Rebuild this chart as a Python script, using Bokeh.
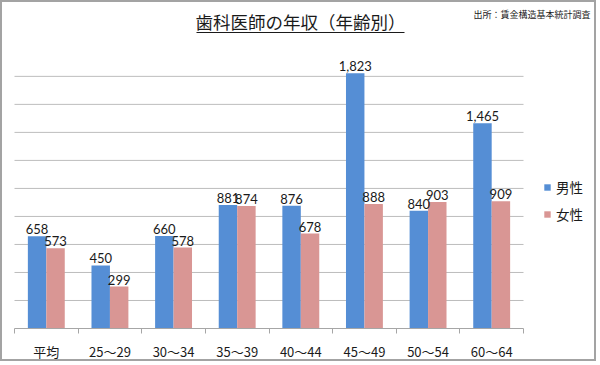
from bokeh.plotting import figure
from bokeh.models import (ColumnDataSource, FixedTicker, Label, BoxAnnotation,
                          Legend, LegendItem, Range1d)
from bokeh.transform import dodge
from bokeh.embed import file_html
from bokeh.resources import INLINE

# ---- data ----
categories = ["平均", "25～29", "30～34", "35～39", "40～44", "45～49", "50～54", "60～64"]
male = [658, 450, 660, 881, 876, 1823, 840, 1465]
female = [573, 299, 578, 874, 678, 888, 903, 909]
series_names = ["男性", "女性"]
y_max = 2000
grid_values = [200, 400, 600, 800, 1000, 1200, 1400, 1600, 1800]
title_text = "歯科医師の年収（年齢別）"
source_text = "出所：賃金構造基本統計調査"

JP = "Noto Sans CJK JP"
NUM = "Lato"
BLUE = "#558ED5"
PINK = "#D99694"
GRID = "#bdbdbd"
AXIS = "#a6a6a6"

n = len(categories)
centers = [i + 0.5 for i in range(n)]
bounds = list(range(n + 1))

src = ColumnDataSource(dict(
    xi=centers,
    male=male,
    female=female,
    male_label=[f"{v:,}" for v in male],
    female_label=[f"{v:,}" for v in female],
))
gsrc = ColumnDataSource(dict(g=grid_values, x0=[0] * len(grid_values),
                             x1=[n] * len(grid_values)))

# canvas geometry (pixels)
W, H = 596, 361
plot_left, plot_right = 12, 521      # pixel x of category 0 and n
frame_bottom = 327                   # pixel y of value 0
top_px = 46                          # pixel y of y_max
ppu_x = (plot_right - plot_left) / n
ppu_y = (frame_bottom - top_px) / y_max

p = figure(width=W, height=H, output_backend="svg", toolbar_location=None,
           x_range=Range1d(-plot_left / ppu_x, (W - plot_left) / ppu_x),
           y_range=Range1d(0, frame_bottom / ppu_y),
           min_border_left=0, min_border_right=0, min_border_top=0,
           min_border_bottom=H - frame_bottom)
p.outline_line_color = None
p.background_fill_color = "white"
p.border_fill_color = "white"
p.styles = {"border": "2px solid #a3a3a3"}

# grid lines limited to the plot area
p.segment(x0="x0", x1="x1", y0="g", y1="g", source=gsrc,
          line_color=GRID, line_width=1)

bw = 0.29
r_m = p.vbar(x=dodge("xi", -bw / 2, range=p.x_range), top="male", width=bw,
             source=src, fill_color=BLUE, line_color=None)
r_f = p.vbar(x=dodge("xi", bw / 2, range=p.x_range), top="female", width=bw,
             source=src, fill_color=PINK, line_color=None)

for col, off in (("male", -bw / 2), ("female", bw / 2)):
    p.text(x=dodge("xi", off, range=p.x_range), y=col, text=col + "_label",
           source=src, text_align="center", text_baseline="bottom",
           y_offset=-2, text_font={"value": NUM}, text_font_size="13px",
           text_color="#1a1a1a")

p.yaxis.visible = False
p.xgrid.visible = False
p.ygrid.visible = False

# x axis: labels at centers, ticks at category boundaries
xa = p.xaxis[0]
xa.bounds = (0, n)
xa.ticker = FixedTicker(ticks=centers, minor_ticks=bounds)
xa.major_label_overrides = {c: lab for c, lab in zip(centers, categories)}
xa.major_tick_out = 0
xa.major_tick_in = 0
xa.minor_tick_out = 5
xa.minor_tick_in = 0
xa.minor_tick_line_color = AXIS
xa.axis_line_color = AXIS
xa.major_label_text_font = JP
xa.major_label_text_font_size = "13px"
xa.major_label_text_color = "#1a1a1a"
xa.major_label_standoff = 8

# title with underline and source note (screen units relative to the frame)
p.add_layout(Label(x=298, y=307, x_units="screen", y_units="screen",
                   text=title_text, text_align="center", text_baseline="middle",
                   text_font=JP, text_font_size="17.5px", text_color="#1a1a1a"))
p.add_layout(BoxAnnotation(left=194, right=402, bottom=295.4, top=296.6,
                           left_units="screen", right_units="screen",
                           bottom_units="screen", top_units="screen",
                           fill_color="#1a1a1a", fill_alpha=1, line_color=None))
p.add_layout(Label(x=588, y=314, x_units="screen", y_units="screen",
                   text=source_text, text_align="right", text_baseline="middle",
                   text_font=JP, text_font_size="9px", text_color="#1a1a1a"))

legend = Legend(items=[LegendItem(label=series_names[0], renderers=[r_m]),
                       LegendItem(label=series_names[1], renderers=[r_f])],
                location=(541, 104), orientation="vertical",
                glyph_width=8, glyph_height=8, label_height=16, spacing=7,
                label_standoff=5, padding=0, margin=0,
                border_line_color=None, background_fill_alpha=0,
                label_text_font=JP, label_text_font_size="13.5px",
                label_text_color="#1a1a1a")
p.add_layout(legend)

open("out.html", "w").write(file_html(p, INLINE))
